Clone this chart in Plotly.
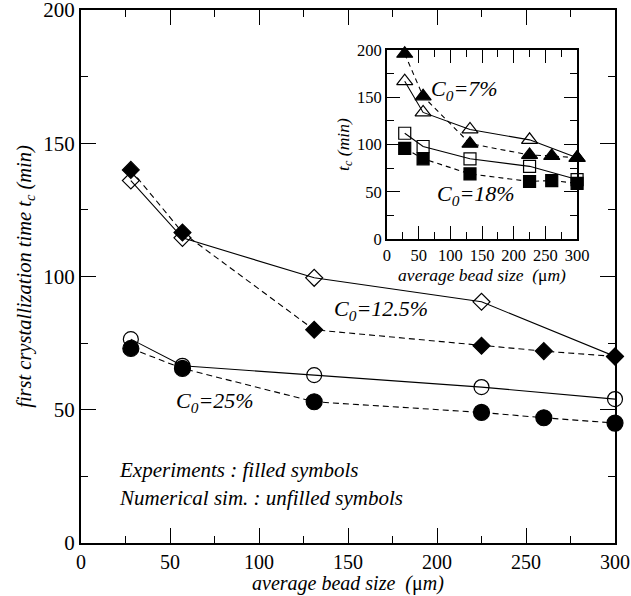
import plotly.graph_objects as go

# ---- main plot data ----
x_exp = [28, 57, 131, 225, 260, 300]
x_sim = [28, 57, 131, 225, 300]
exp_125 = [140, 116.5, 80, 74, 72, 70]
sim_125 = [136, 114.5, 99.5, 90.5, 70]
exp_25 = [73, 65.5, 53, 49, 47, 45]
sim_25 = [76.5, 66.5, 63, 58.5, 54]

# ---- inset data ----
exp_7 = [196, 151, 101, 89, 88, 86]
sim_7 = [167, 134, 116, 105, 86]
exp_18 = [96, 85, 69, 61, 62, 59]
sim_18 = [112, 98, 85, 77, 63]

FONT = "Liberation Serif"
fig = go.Figure()

def add(x, y, sym, dash, size, xa="x", ya="y"):
    fig.add_trace(go.Scatter(
        x=x, y=y, mode="lines+markers", xaxis=xa, yaxis=ya,
        line=dict(color="black", width=1.1, dash=dash),
        marker=dict(symbol=sym, size=size, color="black",
                    line=dict(color="black", width=1.2)),
        cliponaxis=False, showlegend=False))

add(x_sim, sim_125, "diamond-open", "solid", 13)
add(x_exp, exp_125, "diamond", "6px,4px", 13)
add(x_sim, sim_25, "circle-open", "solid", 15)
add(x_exp, exp_25, "circle", "6px,4px", 16)

add(x_sim, sim_7, "triangle-up-open", "solid", 14, "x2", "y2")
add(x_exp, exp_7, "triangle-up", "5px,4px", 14, "x2", "y2")
add(x_sim, sim_18, "square-open", "solid", 12, "x2", "y2")
add(x_exp, exp_18, "square", "5px,4px", 12, "x2", "y2")

def axis(title, tsize, fsize, rng, dom, anchor, ticklen, minorlen, standoff):
    return dict(
        range=rng, domain=dom, anchor=anchor, dtick=50, tick0=0,
        ticks="inside", ticklen=ticklen, tickwidth=1.2, tickcolor="black",
        minor=dict(dtick=25, ticks="inside", ticklen=minorlen, tickwidth=1.2, tickcolor="black"),
        showline=True, linecolor="black", linewidth=2, mirror="ticks",
        showgrid=False, zeroline=False, automargin=False, ticklabeloverflow="allow",
        tickfont=dict(family=FONT, size=fsize, color="black"),
        title=dict(text=title, font=dict(family=FONT, size=tsize, color="black"), standoff=standoff),
    )

fig.update_layout(
    width=631, height=596,
    margin=dict(l=81, r=16, t=10, b=53),
    plot_bgcolor="white", paper_bgcolor="white",
    xaxis=axis("", 20, 20, [0, 300], [0, 1], "y", 15, 7, 6),
    yaxis=axis("<i>first crystallization time t<sub>c</sub> (min)</i>", 20.5, 21, [0, 200], [0, 1], "x", 15, 7, 6),
    xaxis2=axis("<i>average bead size  (</i>μ<i>m)</i>", 17.5, 16.5, [0, 300], [0.573, 0.929], "y2", 13, 7, 1),
    yaxis2=axis("<i>t<sub>c</sub> (min)</i>", 17.5, 16.5, [0, 200], [0.570, 0.925], "x2", 13, 7, 3),
)

# main x-axis title at the bottom edge, below the tick labels
fig.add_annotation(text="<i>average bead size  (</i>μ<i>m)</i>", x=0.5, y=-53 / 533,
                   xref="paper", yref="paper", showarrow=False, yanchor="bottom",
                   borderpad=0, font=dict(family=FONT, size=20, color="black"))

def ann(text, x, y, size, xref="x", yref="y", xanchor="center"):
    fig.add_annotation(text=text, x=x, y=y, xref=xref, yref=yref, showarrow=False,
                       xanchor=xanchor, font=dict(family=FONT, size=size, color="black"))

ann("<i>C<sub>0</sub>=12.5%</i>", 168.5, 87.5, 22)
ann("<i>C<sub>0</sub>=25%</i>", 75.5, 53, 22)
ann("<i>Experiments : filled symbols</i>", 20, 27.4, 21, xanchor="left")
ann("<i>Numerical sim. : unfilled symbols</i>", 20, 16.8, 21, xanchor="left")
ann("<i>C<sub>0</sub>=7%</i>", 122, 158, 22, "x2", "y2")
ann("<i>C<sub>0</sub>=18%</i>", 141, 47, 22, "x2", "y2")

fig.write_html("out.html", config={"displayModeBar": False},
               post_script="document.body.style.margin='0px';document.body.style.overflow='hidden';")
